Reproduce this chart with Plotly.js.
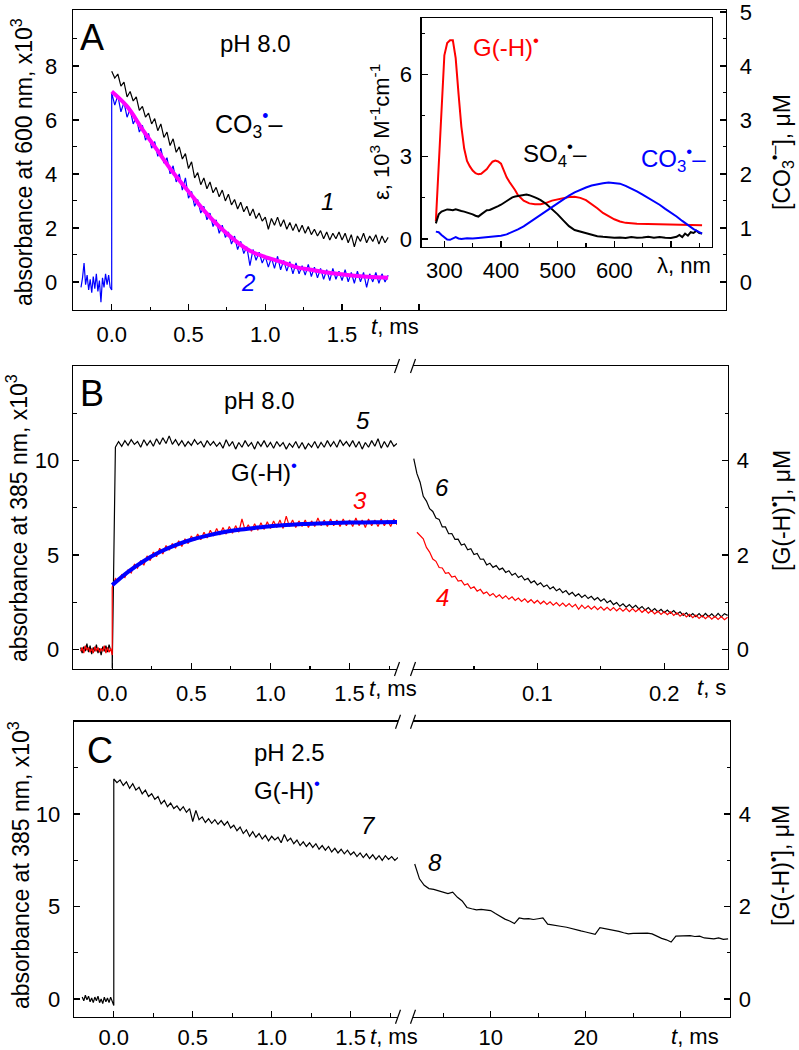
<!DOCTYPE html>
<html><head><meta charset="utf-8">
<script src="https://cdn.plot.ly/plotly-3.0.1.min.js"></script>
</head><body style="margin:0;background:#fff">
<div id="chart" style="width:799px;height:1050px"></div>
<script>
// ---------- time grids (ms unless noted) ----------
const tPre = [-0.20,-0.19,-0.18,-0.17,-0.16,-0.15,-0.14,-0.13,-0.12,-0.11,-0.10,-0.09,-0.08,-0.07,-0.06,-0.05,-0.04,-0.03,-0.02,-0.01,0.00];
const tMs = [0.00,0.02,0.04,0.06,0.08,0.10,0.12,0.14,0.16,0.18,
 0.20,0.22,0.24,0.26,0.28,0.30,0.32,0.34,0.36,0.38,
 0.40,0.42,0.44,0.46,0.48,0.50,0.52,0.54,0.56,0.58,
 0.60,0.62,0.64,0.66,0.68,0.70,0.72,0.74,0.76,0.78,
 0.80,0.82,0.84,0.86,0.88,0.90,0.92,0.94,0.96,0.98,
 1.00,1.02,1.04,1.06,1.08,1.10,1.12,1.14,1.16,1.18,
 1.20,1.22,1.24,1.26,1.28,1.30,1.32,1.34,1.36,1.38,
 1.40,1.42,1.44,1.46,1.48,1.50,1.52,1.54,1.56,1.58,
 1.60,1.62,1.64,1.66,1.68,1.70,1.72,1.74,1.76,1.78,
 1.80];
const tFit = [0,0.1,0.2,0.3,0.4,0.5,0.6,0.7,0.8,0.9,1.0,1.1,1.2,1.3,1.4,1.5,1.6,1.7,1.8];
// seconds (panel B, right part)
const tSec = [0.0025,0.0050,0.0075,0.0100,0.0125,0.0150,0.0175,0.0200,0.0225,0.0250,
 0.0275,0.0300,0.0325,0.0350,0.0375,0.0400,0.0425,0.0450,0.0475,0.0500,
 0.0525,0.0550,0.0575,0.0600,0.0625,0.0650,0.0675,0.0700,0.0725,0.0750,
 0.0775,0.0800,0.0825,0.0850,0.0875,0.0900,0.0925,0.0950,0.0975,0.1000,
 0.1025,0.1050,0.1075,0.1100,0.1125,0.1150,0.1175,0.1200,0.1225,0.1250,
 0.1275,0.1300,0.1325,0.1350,0.1375,0.1400,0.1425,0.1450,0.1475,0.1500,
 0.1525,0.1550,0.1575,0.1600,0.1625,0.1650,0.1675,0.1700,0.1725,0.1750,
 0.1775,0.1800,0.1825,0.1850,0.1875,0.1900,0.1925,0.1950,0.1975,0.2000,
 0.2025,0.2050,0.2075,0.2100,0.2125,0.2150,0.2175,0.2200,0.2225,0.2250,
 0.2275,0.2300,0.2325,0.2350,0.2375,0.2400,0.2425,0.2450,0.2475,0.2500];
// ms (panel C, right part)
const tMs2 = [2.0,2.5,3.0,3.5,4.0,4.5,5.0,5.5,6.0,6.5,7.0,7.5,8.0,8.5,9.0,9.5,10.0,10.5,11.0,11.5,
 12.0,12.5,13.0,13.5,14.0,14.5,15.0,15.5,16.0,16.5,17.0,17.5,18.0,18.5,19.0,19.5,20.0,20.5,21.0,21.5,
 22.0,22.5,23.0,23.5,24.0,24.5,25.0,25.5,26.0,26.5,27.0,27.5,28.0,28.5,29.0,29.5,30.0,30.5,31.0,31.5,
 32.0,32.5,33.0,33.5,34.0,34.5,35.0];

// ---------- Panel A: absorbance at 600 nm (x10^3) ----------
const a1 = [7.80,7.55,7.70,7.25,7.40,6.85,7.05,6.70,6.85,6.35,
 6.50,6.10,6.25,5.85,6.05,5.60,5.85,5.35,5.55,5.05,
 5.30,4.80,5.00,4.55,4.75,4.20,4.45,3.85,4.05,3.60,
 3.85,3.45,3.70,3.30,3.50,3.15,3.40,3.00,3.25,2.85,
 3.05,2.70,2.95,2.60,2.80,2.45,2.70,2.35,2.55,2.25,
 2.40,1.95,2.35,2.10,2.40,2.05,2.30,1.95,2.20,1.90,
 2.15,1.85,2.10,1.80,2.05,1.75,1.95,1.70,1.90,1.60,
 1.85,1.55,1.80,1.60,1.85,1.55,1.80,1.45,1.75,1.30,
 1.70,1.50,1.80,1.45,1.70,1.50,1.75,1.40,1.70,1.45,
 1.65];
const a2pre = [-0.20,0.15,0.70,-0.10,0.25,-0.30,0.10,-0.40,0.20,-0.25,0.30,-0.35,0.05,-0.75,0.15,-0.20,0.30,-0.10,0.25,-0.20,-0.30];
const a2 = [7.00,6.55,6.90,6.30,6.65,6.10,6.40,5.85,6.10,5.55,
 5.80,5.25,5.50,4.95,5.20,4.65,4.95,4.40,4.60,4.00,
 4.30,3.70,4.00,3.40,3.85,3.10,3.35,2.80,3.05,2.55,
 2.80,2.30,2.55,2.05,2.30,1.80,2.10,1.65,1.85,1.40,
 1.70,1.20,1.50,1.05,1.30,0.60,1.20,0.80,1.10,0.70,
 0.95,0.55,0.90,0.50,0.95,0.45,0.80,0.40,0.75,0.30,
 0.70,0.30,0.60,0.25,0.65,0.20,0.55,0.15,0.50,0.10,
 0.45,0.05,0.50,0.10,0.40,0.05,0.45,0.00,0.35,-0.05,
 0.40,0.00,0.35,-0.20,0.30,0.00,0.35,-0.05,0.30,0.00,
 0.25];
const a2fit = [7.05,6.50,5.65,4.85,4.05,3.35,2.65,2.05,1.55,1.15,0.92,0.75,0.55,0.45,0.35,0.28,0.22,0.18,0.15];

// ---------- Panel A inset: spectra, epsilon (10^3 M^-1 cm^-1) ----------
const lamG = [285,290,295,300,305,310,315,320,325,330,335,340,345,350,355,360,365,370,375,380,385,390,395,400,405,410,415,420,425,430,435,440,
 450,460,470,480,490,500,510,520,530,540,550,560,570,580,590,600,610,620,640,660,680,700,720,740,755];
const epsG = [0.65,2.60,4.90,6.70,7.15,7.25,7.25,6.60,5.30,4.10,3.30,2.85,2.65,2.50,2.40,2.36,2.38,2.45,2.55,2.70,2.82,2.86,2.83,2.75,2.50,2.25,2.08,1.95,1.78,1.60,1.48,1.40,
 1.30,1.27,1.27,1.32,1.40,1.45,1.50,1.53,1.54,1.50,1.42,1.28,1.12,0.95,0.82,0.72,0.64,0.59,0.56,0.55,0.54,0.53,0.52,0.50,0.50];
const lamS = [285,290,295,300,305,310,315,320,325,330,335,340,345,350,355,360,365,370,375,380,385,390,395,400,405,410,415,420,425,430,435,440,445,450,455,460,465,470,
 480,490,500,510,520,530,540,550,560,570,580,590,600,610,620,630,640,650,660,670,680,690,700,
 710,715,720,725,730,735,740,745,750,755];
const epsS = [0.57,0.90,1.00,1.05,1.08,1.07,1.05,1.08,1.04,1.02,1.00,0.97,0.93,0.90,0.85,0.82,0.90,0.98,1.05,1.06,1.10,1.15,1.20,1.25,1.32,1.40,1.47,1.52,1.55,1.57,1.58,1.60,1.62,1.60,1.57,1.52,1.47,1.42,
 1.28,1.10,0.90,0.68,0.47,0.33,0.27,0.20,0.15,0.10,0.08,0.06,0.05,0.06,0.04,0.07,0.05,0.06,0.08,0.05,0.07,0.05,0.04,
 0.08,0.15,0.07,0.20,0.12,0.25,0.22,0.30,0.22,0.20];
const lamC = [285,290,295,300,305,310,315,320,325,330,340,350,360,370,380,390,400,410,420,430,440,450,460,470,480,490,500,510,520,530,
 540,550,560,570,580,590,600,610,620,630,640,650,660,670,680,690,700,710,720,730,740,750,755];
const epsC = [0.27,0.25,0.15,0.05,-0.02,-0.03,0.02,0.07,0.02,0.00,0.03,0.02,0.04,0.06,0.08,0.10,0.12,0.17,0.25,0.35,0.46,0.60,0.74,0.88,1.03,1.18,1.32,1.46,1.58,1.70,
 1.80,1.88,1.95,2.00,2.03,2.06,2.05,2.02,1.94,1.85,1.74,1.62,1.50,1.38,1.25,1.10,0.97,0.82,0.66,0.50,0.36,0.25,0.20];

// ---------- Panel B: absorbance at 385 nm (x10^3), pH 8.0 ----------
const b5pre = [0.10,-0.20,0.15,-0.10,0.30,-0.15,0.20,-0.25,0.10,-0.10,0.25,-0.20,0.05,-0.30,0.15,-0.10,0.20,-0.15,0.25,-0.05,-0.10];
const b5 = [-1.00,10.70,11.00,10.75,11.05,10.80,11.10,10.85,11.00,10.70,
 11.10,10.80,11.05,10.75,11.15,10.85,11.20,10.90,11.30,10.85,
 11.10,10.80,11.05,10.75,11.00,10.80,11.10,10.85,11.00,10.70,
 11.05,10.80,11.00,10.75,10.95,10.65,11.10,10.75,11.00,10.60,
 10.95,10.70,11.05,10.75,10.95,10.60,11.00,10.75,11.05,10.70,
 10.95,10.65,11.00,10.75,10.95,10.60,10.90,10.70,11.00,10.65,
 10.95,10.60,10.90,10.70,11.00,10.65,10.95,10.70,11.05,10.75,
 11.00,10.70,11.10,10.80,11.00,10.75,11.05,10.70,11.00,10.60,
 10.95,10.70,11.05,10.75,11.15,10.65,11.00,10.70,11.05,10.75,
 10.90];
const b3pre = [-0.10,0.10,-0.20,0.20,-0.05,0.10,-0.15,0.05,-0.20,0.15,-0.10,0.10,-0.15,0.05,-0.10,0.20,-0.20,0.10,-0.15,0.05,-0.30];
const b3 = [3.30,3.75,3.60,3.95,3.80,4.20,4.05,4.50,4.30,4.70,
 4.45,4.95,4.70,5.15,4.90,5.35,5.05,5.50,5.25,5.60,
 5.35,5.75,5.45,5.85,5.60,6.00,5.75,6.10,5.80,6.20,
 5.90,6.30,6.00,6.40,6.05,6.45,6.10,6.50,6.15,6.55,
 6.20,6.90,6.30,6.60,6.25,6.65,6.30,6.70,6.35,6.75,
 6.40,6.80,6.45,6.85,6.40,7.05,6.50,6.85,6.45,6.80,
 6.50,6.85,6.45,6.80,6.50,6.95,6.55,6.85,6.50,6.90,
 6.55,6.85,6.50,6.90,6.55,6.85,6.50,6.95,6.55,6.85,
 6.45,6.90,6.55,6.85,6.50,6.90,6.55,6.85,6.50,6.90,
 6.60];
const b3fit = [3.40,4.10,4.68,5.15,5.52,5.80,6.02,6.20,6.33,6.43,6.52,6.58,6.63,6.66,6.69,6.71,6.72,6.73,6.74];
const b6 = [10.10,9.30,8.85,8.10,7.85,7.45,7.30,6.95,6.88,6.48,
 6.48,6.12,6.13,5.82,5.83,5.52,5.58,5.27,5.33,5.02,
 5.08,4.77,4.78,4.47,4.56,4.34,4.44,4.22,4.30,4.07,
 4.16,3.92,4.03,3.80,3.90,3.67,3.76,3.52,3.63,3.41,
 3.52,3.31,3.41,3.20,3.31,3.10,3.21,3.00,3.11,2.90,
 3.02,2.82,2.94,2.75,2.88,2.69,2.81,2.62,2.74,2.55,
 2.68,2.47,2.58,2.37,2.48,2.28,2.41,2.23,2.37,2.19,
 2.33,2.14,2.27,2.08,2.21,2.02,2.16,1.98,2.12,1.94,
 2.08,1.91,2.05,1.86,1.99,1.80,1.93,1.74,1.89,1.73,
 1.89,1.72,1.90,1.73,1.88,1.71,1.90,1.72,1.89,1.80];
const b4 = [null,6.20,6.05,5.85,5.40,5.15,4.78,4.66,4.33,4.31,
 4.03,4.06,3.83,3.87,3.62,3.65,3.40,3.47,3.22,3.31,
 3.08,3.18,2.95,3.04,2.84,2.96,2.76,2.89,2.70,2.84,
 2.65,2.78,2.59,2.72,2.54,2.68,2.49,2.63,2.45,2.59,
 2.41,2.55,2.38,2.52,2.34,2.48,2.30,2.45,2.27,2.42,
 2.24,2.38,2.12,2.34,2.16,2.30,2.13,2.28,2.10,2.25,
 2.08,2.23,2.06,2.21,2.04,2.19,2.02,2.17,2.00,2.16,
 1.99,2.14,1.96,2.10,1.92,2.05,1.87,2.02,1.85,2.00,
 1.83,1.98,1.80,1.94,1.76,1.90,1.72,1.86,1.68,1.82,
 1.64,1.79,1.62,1.77,1.60,1.75,1.58,1.73,1.57,1.70];

// ---------- Panel C: absorbance at 385 nm (x10^3), pH 2.5 ----------
const c7pre = [0.10,-0.10,0.20,-0.05,0.15,-0.15,0.05,-0.20,0.10,-0.10,0.15,-0.20,0.00,-0.25,0.10,-0.15,0.05,-0.20,0.10,-0.15,-0.35];
const c7 = [11.90,11.70,11.85,11.55,11.75,11.40,11.65,11.30,11.45,11.10,
 11.30,10.95,11.10,10.80,10.95,10.55,10.75,10.40,10.60,10.30,
 10.45,10.20,10.40,10.10,10.30,9.60,10.20,9.70,9.85,9.55,
 9.75,9.50,9.70,9.45,9.65,9.40,9.60,9.25,9.40,9.10,
 9.30,8.95,9.15,8.80,9.05,8.75,8.95,8.65,8.85,8.55,
 8.80,8.60,8.75,8.45,8.90,8.55,8.70,8.40,8.60,8.30,
 8.50,8.25,8.45,8.20,8.40,8.10,8.30,8.05,8.25,7.95,
 8.15,7.90,8.10,7.85,8.05,7.80,7.95,7.70,7.90,7.65,
 7.85,7.60,7.80,7.55,7.75,7.50,7.75,7.55,7.70,7.50,
 7.65];
const c8 = [7.30,6.50,6.15,5.97,5.93,5.86,5.80,5.70,5.78,5.50,5.30,4.95,4.88,4.82,4.85,4.80,4.78,4.62,4.45,4.32,
 4.22,4.08,4.38,4.33,4.35,4.30,4.34,4.38,4.05,4.02,3.98,3.92,3.88,3.80,3.76,3.68,3.62,3.58,3.50,3.86,
 3.82,3.76,3.72,3.66,3.58,3.52,3.55,3.56,3.58,3.56,3.52,3.38,3.28,3.20,3.08,3.40,3.42,3.40,3.43,3.38,
 3.40,3.30,3.28,3.25,3.30,3.22,3.25];

// ---------- tick labels ----------
const tickMsLbl = ['0.0','0.5','1.0','1.5'];
const tickNmLbl = ['300','400','500','600'];

// ---------- layout helpers ----------
const W = 799, H = 1050;
const px = x => x / W, py = y => 1 - y / H;
const FONT = 'Liberation Sans, Arial, sans-serif';
const BLUE = '#0000ff', RED = '#ff0000', MAG = '#ff00ff';

function ax(extra) {
  return Object.assign({
    showline: true, linecolor: '#000', linewidth: 1.3, ticks: 'inside', ticklen: 6, tickwidth: 1.3,
    tickcolor: '#000', showgrid: false, zeroline: false, tickmode: 'array', ticklabeloverflow: 'allow',
    tickfont: {size: 22, color: '#000', family: FONT}, automargin: false, fixedrange: true
  }, extra);
}
function minor(vals) { return {tickvals: vals, ticks: 'inside', ticklen: 3.5, tickwidth: 1.1, tickcolor: '#000'}; }

function line(x, y, xa, ya, color, width, shape) {
  return {type: 'scatter', mode: 'lines', x: x, y: y, xaxis: xa, yaxis: ya,
    line: {color: color, width: width, shape: shape || 'linear'}, hoverinfo: 'skip', connectgaps: false};
}
// placeholder (no marks) so that the right-hand concentration axes get their own subplot
function axisHolder(xa, ya) {
  return {type: 'scatter', mode: 'lines', x: [null], y: [null], xaxis: xa, yaxis: ya, hoverinfo: 'skip'};
}

const data = [
  // Panel A
  line(tMs, a1, 'x', 'y', '#000', 1.2),
  line(tPre.concat(tMs), a2pre.concat(a2), 'x', 'y', BLUE, 1.2),
  line(tFit, a2fit, 'x', 'y', MAG, 4, 'spline'),
  axisHolder('x', 'y2'),
  // Inset
  line(lamG, epsG, 'x2', 'y3', RED, 2),
  line(lamS, epsS, 'x2', 'y3', '#000', 2),
  line(lamC, epsC, 'x2', 'y3', BLUE, 2),
  // Panel B
  line(tPre.concat(tMs), b5pre.concat(b5), 'x3', 'y4', '#000', 1.2),
  line(tPre.concat(tMs), b3pre.concat(b3), 'x3', 'y4', RED, 1.2),
  line(tFit, b3fit, 'x3', 'y4', BLUE, 4, 'spline'),
  line(tSec, b6, 'x4', 'y4', '#000', 1.2),
  line(tSec, b4, 'x4', 'y4', RED, 1.2),
  axisHolder('x4', 'y5'),
  // Panel C
  line(tPre.concat(tMs), c7pre.concat(c7), 'x5', 'y6', '#000', 1.2),
  line(tMs2, c8, 'x6', 'y6', '#000', 1.2),
  axisHolder('x6', 'y7')
];

function ann(text, x, y, size, opts) {
  return Object.assign({text: text, x: px(x), y: py(y), xref: 'paper', yref: 'paper', showarrow: false,
    xanchor: 'center', yanchor: 'middle', font: {size: size, color: '#000', family: FONT}}, opts || {});
}
function col(c, size) { return {font: {size: size, color: c, family: FONT}}; }
const dotB = "<span style='color:#0000ff'>•</span>";

const annotations = [
  // Panel A
  ann('A', 92, 37, 36),
  ann('pH 8.0', 255, 44, 24),
  ann('CO<sub>3</sub><sup>' + dotB + '</sup>–', 248, 124, 25),
  ann('<i>1</i>', 327, 202, 24),
  ann('<i>2</i>', 248, 282, 24, col(BLUE, 24)),
  ann('<i>t</i>, ms', 395, 327, 22),
  ann('absorbance at 600 nm, x10<sup>3</sup>', 22, 162, 23, {textangle: -90}),
  ann('ε, 10<sup>3</sup> M<sup>-1</sup>cm<sup>-1</sup>', 380, 132, 22, {textangle: -90}),
  ann('[CO<sub>3</sub><sup>•–</sup>], μM', 781, 152, 23, {textangle: -90}),
  ann('G(-H)<sup>•</sup>', 506, 46, 24, col(RED, 24)),
  ann('SO<sub>4</sub><sup>•</sup>–', 555, 154, 24),
  ann('CO<sub>3</sub><sup>•</sup>–', 673, 159, 24, col(BLUE, 24)),
  ann('λ, nm', 684, 265, 22),
  // Panel B
  ann('B', 92, 393, 36),
  ann('pH 8.0', 259, 400, 24),
  ann('<i>5</i>', 363, 420, 24),
  ann('G(-H)<sup>' + dotB + '</sup>', 264, 471, 24),
  ann('<i>3</i>', 360, 500, 24, col(RED, 24)),
  ann('<i>6</i>', 442, 487, 24),
  ann('<i>4</i>', 442, 597, 24, col(RED, 24)),
  ann('<i>t</i>, ms', 393, 688, 22),
  ann('<i>t</i>, s', 711, 687, 22),
  ann('[G(-H)<sup>•</sup>], μM', 780, 511, 23, {textangle: -90}),
  ann('absorbance at 385 nm, x10<sup>3</sup>', 17, 518, 23, {textangle: -90}),
  // Panel C
  ann('C', 100, 750, 36),
  ann('pH 2.5', 289, 752, 24),
  ann('G(-H)<sup>' + dotB + '</sup>', 287, 789, 24),
  ann('<i>7</i>', 368, 825, 24),
  ann('<i>8</i>', 435, 862, 24),
  ann('<i>t</i>, ms', 394, 1036, 22),
  ann('<i>t</i>, ms', 695, 1036, 22),
  ann('[G(-H)<sup>•</sup>], μM', 779, 866, 23, {textangle: -90}),
  ann('absorbance at 385 nm, x10<sup>3</sup>', 19, 865, 23, {textangle: -90})
];

function brk(xc, yc) {
  return {type: 'line', xref: 'paper', yref: 'paper', x0: px(xc - 2.5), y0: py(yc + 7), x1: px(xc + 2.5), y1: py(yc - 7),
    line: {color: '#000', width: 1.2}};
}
const shapes = [brk(397, 366), brk(413, 366), brk(397, 669), brk(413, 669),
                brk(398, 721.7), brk(413, 721.7), brk(398, 1016.7), brk(413, 1016.7)];

const layout = {
  width: W, height: H, margin: {l: 0, r: 0, t: 0, b: 0, pad: 0},
  paper_bgcolor: '#fff', plot_bgcolor: 'rgba(0,0,0,0)', showlegend: false,
  font: {family: FONT, color: '#000'},
  // Panel A main
  xaxis: ax({domain: [px(73), px(726)], range: [-0.252, 4.0], anchor: 'y', mirror: true,
    tickvals: [0, 0.5, 1, 1.5, 2], ticktext: tickMsLbl.concat(['']), minor: minor([0.25, 0.75, 1.25, 1.75]), ticklabelstandoff: 4}),
  yaxis: ax({domain: [py(310), py(10)], range: [-1.04, 10.07], anchor: 'x',
    tickvals: [0, 2, 4, 6, 8], ticktext: ['0', '2', '4', '6', '8'], minor: minor([1, 3, 5, 7, 9]), ticklabelstandoff: 10}),
  yaxis2: ax({overlaying: 'y', side: 'right', anchor: 'x', range: [-0.52, 5.035],
    tickvals: [0, 1, 2, 3, 4, 5], ticktext: ['0', '1', '2', '3', '4', '5'], minor: minor([0.5, 1.5, 2.5, 3.5, 4.5]), ticklabelstandoff: 8}),
  // Inset
  xaxis2: ax({domain: [px(421.7), px(711.7)], range: [260, 772], anchor: 'y3', mirror: true,
    tickvals: [300, 400, 500, 600, 700], ticktext: tickNmLbl.concat(['']), minor: minor([350, 450, 550, 650, 750]), ticklabelstandoff: 4}),
  yaxis3: ax({domain: [py(246.7), py(18.3)], range: [-0.28, 8.05], anchor: 'x2', mirror: true,
    tickvals: [0, 3, 6], ticktext: ['0', '3', '6'], minor: minor([1.5, 4.5, 7.5]), ticklabelstandoff: 4}),
  // Panel B
  xaxis3: ax({domain: [px(73), px(397)], range: [-0.248, 1.80], anchor: 'y4', mirror: true,
    tickvals: [0, 0.5, 1, 1.5], ticktext: tickMsLbl, minor: minor([0.25, 0.75, 1.25, 1.75]), ticklabelstandoff: 4}),
  xaxis4: ax({domain: [px(413), px(728)], range: [0.0019, 0.2503], anchor: 'y4', mirror: true,
    tickvals: [0.1, 0.2], ticktext: ['0.1', '0.2'], minor: minor([0.05, 0.15]), ticklabelstandoff: 4}),
  yaxis4: ax({domain: [py(669), py(366)], range: [-1.04, 15], anchor: 'x3',
    tickvals: [0, 5, 10], ticktext: ['0', '5', '10'], minor: minor([2.5, 7.5, 12.5]), ticklabelstandoff: 8}),
  yaxis5: ax({overlaying: 'y4', side: 'right', anchor: 'x4', range: [-0.416, 6.0],
    tickvals: [0, 2, 4], ticktext: ['0', '2', '4'], minor: minor([1, 3, 5]), ticklabelstandoff: 3}),
  // Panel C
  xaxis5: ax({domain: [px(74), px(398)], range: [-0.252, 1.80], anchor: 'y6', mirror: true,
    tickvals: [0, 0.5, 1, 1.5], ticktext: tickMsLbl, minor: minor([0.25, 0.75, 1.25, 1.75]), ticklabelstandoff: 1}),
  xaxis6: ax({domain: [px(413), px(730)], range: [1.82, 35.2], anchor: 'y6', mirror: true,
    tickvals: [10, 20, 30], ticktext: ['10', '20', ''], minor: minor([5, 15, 25]), ticklabelstandoff: 1}),
  yaxis6: ax({domain: [py(1016.7), py(721.7)], range: [-0.96, 15], anchor: 'x5',
    tickvals: [0, 5, 10], ticktext: ['0', '5', '10'], minor: minor([2.5, 7.5, 12.5]), ticklabelstandoff: 8}),
  yaxis7: ax({overlaying: 'y6', side: 'right', anchor: 'x6', range: [-0.384, 6.0],
    tickvals: [0, 2, 4], ticktext: ['0', '2', '4'], minor: minor([1, 3, 5]), ticklabelstandoff: 3}),
  annotations: annotations,
  shapes: shapes
};

Plotly.newPlot('chart', data, layout, {displayModeBar: false, staticPlot: true});
</script>
</body></html>
